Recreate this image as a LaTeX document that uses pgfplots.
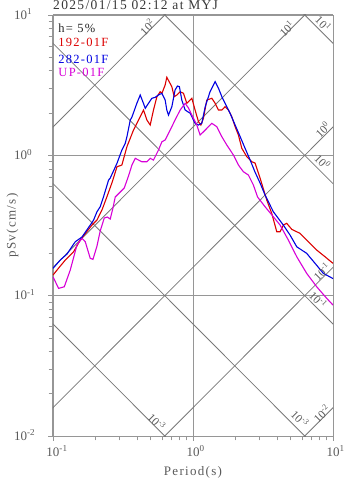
\documentclass[border=0pt]{standalone}
\usepackage{fontspec}
\setmainfont{Liberation Serif}
\newfontfamily\spfont[LetterSpace=10]{Liberation Serif}
\usepackage{pgfplots}
\pgfplotsset{compat=1.18}
\definecolor{cR}{RGB}{220,0,0}
\definecolor{cB}{RGB}{0,0,225}
\definecolor{cM}{RGB}{215,0,215}
\definecolor{frameg}{RGB}{150,150,150}
\definecolor{diag}{RGB}{120,120,120}
\definecolor{txtg}{RGB}{90,90,90}
\definecolor{titg}{RGB}{55,55,55}
\newcommand{\sx}[1]{10\rlap{\smash{\textsuperscript{#1}}}}
\begin{document}
\begin{tikzpicture}
\path[use as bounding box] (0pt,0pt) rectangle (347pt,478pt);
\begin{axis}[
  at={(53pt,42pt)}, anchor=south west,
  width=280pt, height=421pt, scale only axis,
  xmode=log, ymode=log,
  xmin=0.1, xmax=10, ymin=0.01, ymax=10,
  axis line style={frameg, line width=0.9pt},
  xtick={0.1,1,10}, ytick={0.01,0.1,1,10},
  minor xtick={0.2,0.3,0.4,0.5,0.6,0.7,0.8,0.9,2,3,4,5,6,7,8,9},
  minor ytick={0.02,0.03,0.04,0.05,0.06,0.07,0.08,0.09,0.2,0.3,0.4,0.5,0.6,0.7,0.8,0.9,2,3,4,5,6,7,8,9},
  xticklabels={\sx{-1},\sx{0},\sx{1}},
  yticklabels={\sx{-2},\sx{-1},\sx{0},\sx{1}},
  tick pos=left, tick align=outside,
  major tick length=5pt, minor tick length=4.5pt,
  every tick/.style={frameg, line width=0.8pt},
  grid=major,
  major grid style={frameg, line width=1pt},
  xticklabel style={font=\fontsize{13}{14}\selectfont, text=txtg, anchor=north, inner sep=0pt, yshift=-6.5pt},
  yticklabel style={font=\fontsize{13}{14}\selectfont, text=txtg, anchor=west, inner sep=0pt, xshift=-34pt},
  xlabel={Period(s)}, ylabel={pSv(cm/s)},
  every axis x label/.style={at={([yshift=-39pt]axis description cs:0.5,0)}, anchor=base, font=\spfont\fontsize{13}{14}\selectfont, text=txtg},
  every axis y label/.style={at={([xshift=-40.5pt]axis description cs:0,0.5)}, rotate=90, anchor=center, font=\spfont\fontsize{13}{14}\selectfont, text=txtg},
  title={2025/01/15 02:12 at MYJ},
  every axis title/.style={at={([yshift=5pt]axis description cs:0,1)}, anchor=base west, inner sep=0pt, font=\spfont\fontsize{13.5}{15}\selectfont, text=titg},
  clip=true,
]
% acceleration lines (rising)
\addplot[diag, line width=0.8pt] coordinates {(0.05,0.79577) (20,318.31)};
\addplot[diag, line width=0.8pt] coordinates {(0.05,0.079577) (20,31.831)};
\addplot[diag, line width=0.8pt] coordinates {(0.05,0.0079577) (20,3.1831)};
\addplot[diag, line width=0.8pt] coordinates {(0.05,0.00079577) (20,0.31831)};
\addplot[diag, line width=0.8pt] coordinates {(0.05,0.000079577) (20,0.031831)};
% displacement lines (falling)
\addplot[diag, line width=0.8pt] coordinates {(0.05,1256.6) (20,3.1416)};
\addplot[diag, line width=0.8pt] coordinates {(0.05,125.66) (20,0.31416)};
\addplot[diag, line width=0.8pt] coordinates {(0.05,12.566) (20,0.031416)};
\addplot[diag, line width=0.8pt] coordinates {(0.05,1.2566) (20,0.0031416)};
\addplot[diag, line width=0.8pt] coordinates {(0.05,0.12566) (20,0.00031416)};
% 192-01F
\addplot[cR, line width=1.1pt] coordinates {
(0.100,0.1402) (0.1068,0.1522) (0.1224,0.1794) (0.1403,0.2055) (0.1566,0.249) (0.1898,0.3186) (0.2061,0.3458) (0.2237,0.4075) (0.2428,0.507) (0.2649,0.6453) (0.2864,0.8293) (0.3105,0.8529) (0.3373,1.152) (0.3759,1.514) (0.4198,1.884) (0.443,2.103) (0.4685,1.785) (0.4946,1.644) (0.5221,2.103) (0.5522,2.616) (0.5829,2.840) (0.5998,2.766) (0.6324,3.170) (0.6501,3.597) (0.7063,3.083) (0.7337,2.616) (0.7671,2.690) (0.8095,2.840) (0.855,2.766) (0.9039,2.348) (0.9813,2.549) (1.035,2.103) (1.094,1.736) (1.138,1.644) (1.187,1.835) (1.255,2.479) (1.363,2.549) (1.439,2.348) (1.521,2.103) (1.607,2.103) (1.694,2.220) (1.791,2.103) (1.893,1.884) (2.000,1.599) (2.110,1.395) (2.232,1.122) (2.423,0.977) (2.630,0.9002) (2.773,0.8812) (3.013,0.689) (3.364,0.4801) (3.652,0.386) (3.966,0.2854) (4.187,0.2854) (4.419,0.3186) (4.673,0.3276) (5.074,0.2969) (5.814,0.278) (6.666,0.2422) (7.651,0.2113) (8.768,0.1894) (10.0,0.1699)
};
% 282-01F
\addplot[cB, line width=1.1pt] coordinates {
(0.100,0.1565) (0.1127,0.1794) (0.1259,0.198) (0.1442,0.2422) (0.1611,0.2616) (0.1845,0.3186) (0.195,0.3458) (0.2061,0.3963) (0.2173,0.43) (0.2296,0.507) (0.2495,0.6667) (0.2564,0.689) (0.2864,0.877) (0.3105,1.091) (0.3281,1.218) (0.3373,1.357) (0.3565,1.785) (0.3664,1.875) (0.3972,2.348) (0.4198,2.690) (0.4426,2.348) (0.456,2.163) (0.4808,2.348) (0.5082,2.549) (0.537,2.591) (0.5662,2.690) (0.5998,2.766) (0.6324,2.479) (0.6501,2.103) (0.6683,1.937) (0.7063,2.220) (0.7447,2.920) (0.7745,3.118) (0.7998,3.083) (0.8318,2.479) (0.879,2.103) (0.955,1.993) (1.035,1.691) (1.094,1.644) (1.156,1.691) (1.222,2.220) (1.324,2.840) (1.439,3.347) (1.521,3.002) (1.607,2.616) (1.694,2.348) (1.841,1.993) (2.000,1.644) (2.173,1.357) (2.355,1.122) (2.559,0.926) (2.773,0.760) (3.013,0.635) (3.273,0.521) (3.750,0.3963) (4.416,0.3186) (4.932,0.2704) (5.508,0.2231) (6.486,0.2002) (7.447,0.1699) (8.531,0.1442) (10.0,0.1324)
};
% UP-01F
\addplot[cM, line width=1.1pt] coordinates {
(0.100,0.1364) (0.1096,0.1127) (0.1204,0.1157) (0.1328,0.1522) (0.1483,0.2295) (0.1611,0.2561) (0.170,0.2422) (0.1845,0.1845) (0.193,0.1815) (0.2061,0.2257) (0.2173,0.2886) (0.2323,0.3573) (0.244,0.3632) (0.2564,0.3516) (0.268,0.4211) (0.2783,0.5045) (0.3021,0.5475) (0.3227,0.5847) (0.3462,0.712) (0.3664,0.8529) (0.3866,0.9519) (0.4315,0.9002) (0.4685,0.9002) (0.4946,0.9519) (0.5221,0.926) (0.5668,1.091) (0.5998,1.250) (0.6324,1.286) (0.6871,1.514) (0.7447,1.785) (0.8095,2.103) (0.879,2.348) (0.928,2.174) (1.007,1.835) (1.065,1.644) (1.125,1.395) (1.222,1.514) (1.363,1.691) (1.480,1.599) (1.607,1.357) (1.744,1.184) (1.944,1.005) (2.110,0.8529) (2.291,0.7640) (2.487,0.7236) (2.700,0.6142) (2.893,0.5045) (3.273,0.43) (3.750,0.3650) (4.187,0.3186) (4.798,0.249) (5.508,0.1894) (6.486,0.1442) (7.651,0.1157) (9.018,0.0957) (10.0,0.0857)
};
% line labels
\begin{scope}[every node/.style={font=\fontsize{11.5}{12}\selectfont, text=txtg, inner sep=0pt}]
\node[rotate=45] at (axis cs:0.471,8.21) {10\textsuperscript{2}};
\node[rotate=45] at (axis cs:4.67,8.04) {10\textsuperscript{1}};
\node[rotate=-45] at (axis cs:8.53,8.73) {10\textsuperscript{1}};
\node[rotate=45] at (axis cs:8.44,1.532) {10\textsuperscript{0}};
\node[rotate=-45] at (axis cs:8.44,0.90) {10\textsuperscript{0}};
\node[rotate=45] at (axis cs:8.30,0.148) {10\textsuperscript{-1}};
\node[rotate=-45] at (axis cs:7.85,0.093) {10\textsuperscript{-1}};
\node[rotate=-45] at (axis cs:0.552,0.01262) {10\textsuperscript{-3}};
\node[rotate=-45] at (axis cs:5.82,0.01335) {10\textsuperscript{-3}};
\node[rotate=45] at (axis cs:8.30,0.01449) {10\textsuperscript{-2}};
\end{scope}
% legend texts
\begin{scope}[every node/.style={font=\spfont\fontsize{12.5}{14}\selectfont, anchor=base west, inner sep=0pt}]
\node[text=black!85] at ([xshift=5.3pt,yshift=-18pt]rel axis cs:0,1) {h= 5\%};
\node[text=cR] at ([xshift=5.3pt,yshift=-32pt]rel axis cs:0,1) {192-01F};
\node[text=cB] at ([xshift=5.3pt,yshift=-48.5pt]rel axis cs:0,1) {282-01F};
\node[text=cM] at ([xshift=5.3pt,yshift=-62pt]rel axis cs:0,1) {UP-01F};
\end{scope}
\end{axis}
\end{tikzpicture}
\end{document}
